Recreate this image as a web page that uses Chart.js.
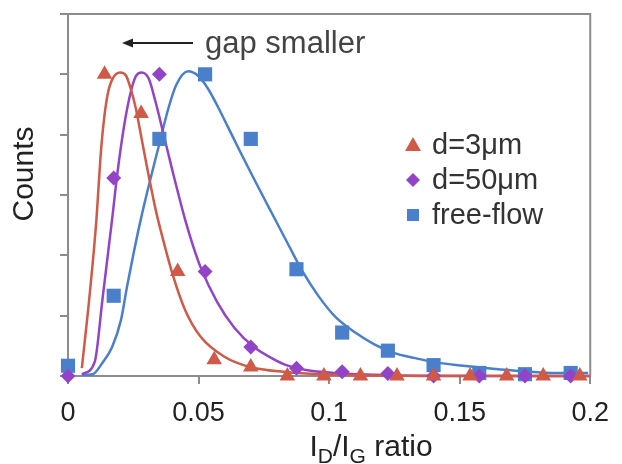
<!DOCTYPE html>
<html>
<head>
<meta charset="utf-8">
<script src="https://cdn.jsdelivr.net/npm/chart.js@4/dist/chart.umd.min.js"></script>
<style>
  html, body { margin: 0; padding: 0; background: #fff; }
  #wrap { width: 622px; height: 464px; position: relative; }
</style>
</head>
<body>
<div id="wrap"><canvas id="chart" width="622" height="464"></canvas></div>
<script>
// Axis ticks
const xTicks = [0, 0.05, 0.1, 0.15, 0.2];
const xTickLabels = ["0", "0.05", "0.1", "0.15", "0.2"];

// Measured histogram points
const redX = [0.014, 0.028, 0.042, 0.056, 0.07, 0.084, 0.098, 0.112, 0.126, 0.14, 0.154, 0.168, 0.182, 0.196];
const redY = [5.0, 4.35, 1.73, 0.27, 0.15, 0, 0, 0, 0, 0, 0, 0, 0, 0];

const purpleX = [0, 0.0175, 0.035, 0.0525, 0.07, 0.0875, 0.105, 0.1225, 0.14, 0.1575, 0.175, 0.1925];
const purpleY = [0, 3.28, 5.0, 1.73, 0.48, 0.13, 0.07, 0.04, 0, 0, 0, 0];

const blueX = [0, 0.0175, 0.035, 0.0525, 0.07, 0.0875, 0.105, 0.1225, 0.14, 0.1575, 0.175, 0.1925];
const blueY = [0.17, 1.33, 3.93, 5.0, 3.93, 1.77, 0.72, 0.42, 0.18, 0.05, 0.03, 0.05];

// Fitted curves
const redFitX = [0.0053, 0.0083, 0.0109, 0.0124, 0.0136, 0.0151, 0.017, 0.02, 0.0222, 0.0241, 0.026, 0.0282, 0.0309, 0.0335, 0.0354, 0.0403, 0.0448, 0.0508, 0.0599, 0.0697, 0.0825, 0.1025, 0.1326, 0.2];
const redFitY = [0.13, 1.35, 2.6, 3.6, 4.18, 4.65, 4.92, 5.03, 4.98, 4.75, 4.43, 3.93, 3.32, 2.77, 2.43, 1.65, 1.1, 0.65, 0.32, 0.15, 0.07, 0.02, 0.005, 0];

const purpleFitX = [0.0053, 0.0102, 0.0132, 0.0169, 0.0188, 0.0215, 0.0241, 0.026, 0.0282, 0.0309, 0.0335, 0.0358, 0.0403, 0.0448, 0.0478, 0.0508, 0.0572, 0.0637, 0.0712, 0.0787, 0.0836, 0.0911, 0.1024, 0.1175, 0.14, 0.2];
const purpleFitY = [0.03, 0.23, 1.27, 2.6, 3.32, 4.15, 4.72, 4.97, 5.03, 4.93, 4.55, 4.15, 3.35, 2.6, 2.17, 1.8, 1.22, 0.8, 0.48, 0.28, 0.18, 0.1, 0.05, 0.02, 0, 0];

const blueFitX = [0.0053, 0.0094, 0.0132, 0.0169, 0.0203, 0.0226, 0.0252, 0.0279, 0.0309, 0.0347, 0.0384, 0.0414, 0.046, 0.0497, 0.0535, 0.0572, 0.061, 0.0659, 0.0712, 0.0772, 0.0847, 0.09, 0.096, 0.1024, 0.11, 0.1175, 0.125, 0.1326, 0.14, 0.1514, 0.1627, 0.174, 0.1864, 0.1992];
const blueFitY = [0.02, 0.03, 0.22, 0.48, 0.93, 1.48, 2.05, 2.6, 3.15, 3.8, 4.43, 4.82, 5.05, 4.98, 4.77, 4.48, 4.15, 3.72, 3.27, 2.77, 2.15, 1.72, 1.32, 0.98, 0.72, 0.52, 0.38, 0.3, 0.23, 0.17, 0.12, 0.08, 0.05, 0.05];

const seriesNames = ["d=3\u03bcm", "d=50\u03bcm", "free-flow"];

const RED = "#cf5a48";
const PURPLE = "#9343c8";
const BLUE = "#4a7fcc";
const AXIS = "#8c8c8c";
const FONT = "'Liberation Sans', Arial, sans-serif";

function pts(xs, ys) {
  return xs.map((x, i) => ({ x: x, y: ys[i] }));
}

function fitLine(xs, ys, color) {
  return {
    data: pts(xs, ys),
    showLine: true,
    borderColor: color,
    borderWidth: 2.5,
    pointRadius: 0,
    cubicInterpolationMode: "monotone",
    order: 2,
    clip: false,
  };
}

function markers(xs, ys, color, style, radius) {
  return {
    data: pts(xs, ys),
    showLine: false,
    pointStyle: style,
    pointRadius: radius,
    pointBackgroundColor: color,
    pointBorderColor: color,
    pointBorderWidth: 0,
    order: 1,
    clip: false,
  };
}

// Frame, titles, arrow note and legend
const decorPlugin = {
  id: "decor",
  afterDraw(chart) {
    const ctx = chart.ctx;
    const a = chart.chartArea;
    ctx.save();

    // top + right frame
    ctx.strokeStyle = AXIS;
    ctx.lineWidth = 2;
    ctx.beginPath();
    ctx.moveTo(a.left, a.top);
    ctx.lineTo(a.right, a.top);
    ctx.lineTo(a.right, a.bottom);
    ctx.stroke();

    // x title with subscripts
    ctx.fillStyle = "#222";
    ctx.textBaseline = "alphabetic";
    ctx.textAlign = "left";
    const parts = [["I", 30, 0], ["D", 21, 7], ["/I", 30, 0], ["G", 21, 7], [" ratio", 30, 0]];
    let w = 0;
    parts.forEach((p) => {
      ctx.font = p[1] + "px " + FONT;
      w += ctx.measureText(p[0]).width;
    });
    let x = 371 - w / 2;
    parts.forEach((p) => {
      ctx.font = p[1] + "px " + FONT;
      ctx.fillText(p[0], x, 456 + p[2]);
      x += ctx.measureText(p[0]).width;
    });

    // y title
    ctx.save();
    ctx.translate(25, 174);
    ctx.rotate(-Math.PI / 2);
    ctx.font = "30px " + FONT;
    ctx.textAlign = "center";
    ctx.textBaseline = "middle";
    ctx.fillText("Counts", 0, 0);
    ctx.restore();

    // arrow note
    ctx.strokeStyle = "#222";
    ctx.fillStyle = "#222";
    ctx.lineWidth = 2;
    ctx.beginPath();
    ctx.moveTo(193, 43);
    ctx.lineTo(130, 43);
    ctx.stroke();
    ctx.beginPath();
    ctx.moveTo(122, 43);
    ctx.lineTo(133, 38.5);
    ctx.lineTo(133, 47.5);
    ctx.closePath();
    ctx.fill();
    ctx.fillStyle = "#444";
    ctx.font = "31px " + FONT;
    ctx.textAlign = "left";
    ctx.textBaseline = "alphabetic";
    ctx.fillText("gap smaller", 205, 53);

    // legend
    const rows = [145, 180, 215];
    const lx = 413;
    // triangle
    ctx.fillStyle = RED;
    ctx.beginPath();
    ctx.moveTo(lx, rows[0] - 8);
    ctx.lineTo(lx + 8, rows[0] + 6);
    ctx.lineTo(lx - 8, rows[0] + 6);
    ctx.closePath();
    ctx.fill();
    // diamond
    ctx.fillStyle = PURPLE;
    ctx.beginPath();
    ctx.moveTo(lx, rows[1] - 7);
    ctx.lineTo(lx + 7, rows[1]);
    ctx.lineTo(lx, rows[1] + 7);
    ctx.lineTo(lx - 7, rows[1]);
    ctx.closePath();
    ctx.fill();
    // square
    ctx.fillStyle = BLUE;
    ctx.fillRect(lx - 6, rows[2] - 6, 12, 12);

    ctx.fillStyle = "#333";
    ctx.font = "29px " + FONT;
    ctx.textBaseline = "middle";
    seriesNames.forEach((n, i) => ctx.fillText(n, 432, rows[i] + 1));

    ctx.restore();
  },
};

new Chart(document.getElementById("chart"), {
  type: "scatter",
  data: {
    datasets: [
      fitLine(redFitX, redFitY, RED),
      fitLine(purpleFitX, purpleFitY, PURPLE),
      fitLine(blueFitX, blueFitY, BLUE),
      markers(redX, redY, RED, "triangle", 9),
      markers(purpleX, purpleY, PURPLE, "rectRot", 7.5),
      markers(blueX, blueY, BLUE, "rect", 10),
    ],
  },
  options: {
    responsive: false,
    animation: false,
    events: [],
    layout: { padding: { top: 14, right: 23, left: 0, bottom: 0 } },
    plugins: {
      legend: { display: false },
      tooltip: { enabled: false },
    },
    scales: {
      x: {
        type: "linear",
        min: 0,
        max: 0.2,
        afterFit: (s) => { s.height = 88; },
        afterBuildTicks: (s) => { s.ticks = xTicks.map((v) => ({ value: v })); },
        ticks: {
          padding: 13,
          color: "#222",
          font: { family: FONT, size: 27 },
          maxRotation: 0,
          callback: (v) => xTickLabels[xTicks.indexOf(v)] ?? "",
        },
        grid: { drawOnChartArea: false, drawTicks: true, tickLength: 8, color: AXIS, lineWidth: 2 },
        border: { display: true, color: AXIS, width: 2 },
      },
      y: {
        type: "linear",
        min: 0,
        max: 6,
        afterFit: (s) => { s.width = 68; },
        ticks: { display: false, stepSize: 1 },
        grid: { drawOnChartArea: false, drawTicks: true, tickLength: 8, color: AXIS, lineWidth: 2 },
        border: { display: true, color: AXIS, width: 2 },
      },
    },
  },
  plugins: [decorPlugin],
});
</script>
</body>
</html>
